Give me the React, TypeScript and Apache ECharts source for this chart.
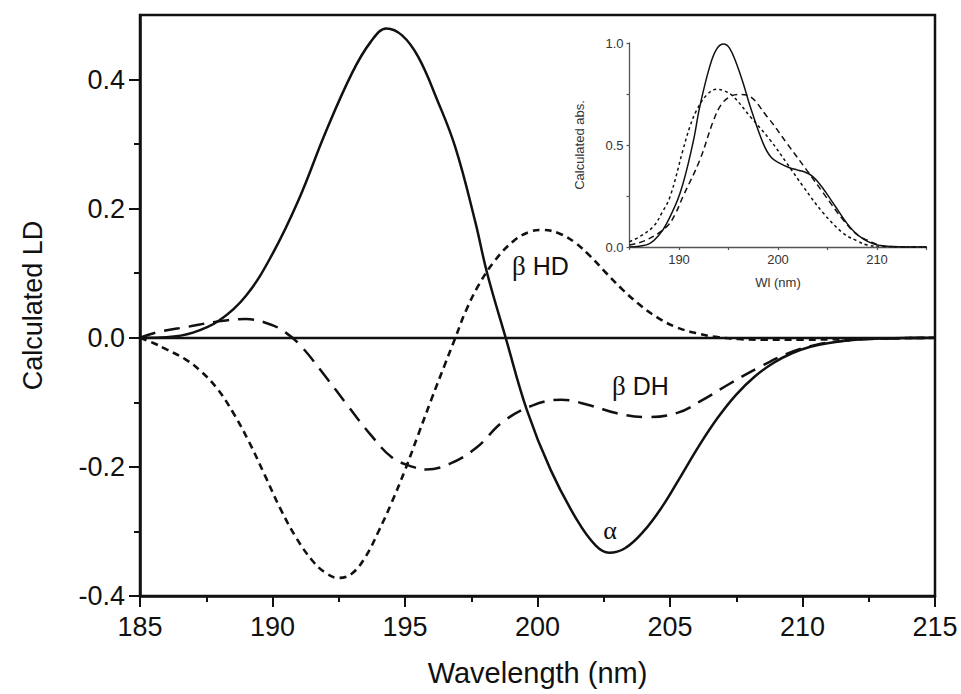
import React, { useEffect, useRef } from "react";
import * as echarts from "echarts";

// ---------- main panel data (Calculated LD) ----------
const alphaX = [185, 186, 187, 188, 189, 190, 191, 192, 193, 193.7, 194.3, 194.9, 195.5, 196.2, 196.9, 197.65, 198.1, 198.8, 199.6, 200.5, 201.5, 202.2, 202.7, 203.3, 204, 204.7, 205.4, 206.1, 206.8, 207.5, 208.2, 208.9, 209.6, 210.3, 211, 212, 213, 215];
const alphaY = [0, 0.001, 0.008, 0.027, 0.065, 0.13, 0.215, 0.318, 0.41, 0.458, 0.479, 0.468, 0.435, 0.37, 0.295, 0.18, 0.1, 0.0, -0.112, -0.205, -0.283, -0.322, -0.333, -0.326, -0.3, -0.262, -0.215, -0.167, -0.124, -0.088, -0.06, -0.039, -0.024, -0.014, -0.008, -0.003, -0.001, 0];

const hdX = [185, 185.5, 186, 186.7, 187.3, 187.9, 188.5, 189.1, 189.7, 190.3, 190.9, 191.5, 192, 192.5, 193, 193.5, 194, 194.5, 195, 195.5, 196, 196.5, 196.9, 197.3, 197.8, 198.4, 199.1, 199.7, 200.2, 200.8, 201.4, 202, 202.6, 203.2, 203.8, 204.5, 205.2, 206, 206.8, 207.6, 208.5, 210, 211.5, 213, 215];
const hdY = [0, -0.008, -0.018, -0.033, -0.052, -0.078, -0.115, -0.16, -0.212, -0.265, -0.31, -0.345, -0.364, -0.372, -0.365, -0.34, -0.3, -0.255, -0.205, -0.15, -0.095, -0.042, 0, 0.042, 0.083, 0.12, 0.15, 0.164, 0.167, 0.162, 0.148, 0.126, 0.1, 0.075, 0.053, 0.032, 0.017, 0.007, 0.001, -0.002, -0.003, -0.003, -0.002, -0.001, 0];

const dhX = [185, 185.7, 186.8, 187.9, 189, 189.9, 190.5, 191.1, 192, 192.8, 193.7, 194.5, 195.3, 195.8, 196.7, 197.7, 198.7, 199.8, 200.9, 202, 203, 204.1, 205.3, 206.2, 207.3, 208.4, 209.4, 210.5, 211.5, 212.5, 215];
const dhY = [0, 0.009, 0.017, 0.025, 0.029, 0.021, 0.008, -0.014, -0.06, -0.103, -0.15, -0.185, -0.2, -0.204, -0.195, -0.17, -0.13, -0.105, -0.096, -0.105, -0.117, -0.123, -0.116, -0.097, -0.07, -0.045, -0.025, -0.011, -0.005, -0.002, 0];

// ---------- inset data (Calculated abs.) ----------
const insSolidX = [185, 186, 187.07, 188, 188.76, 190.1, 191.4, 192.1, 193.1, 193.8, 194.5, 195.1, 195.8, 196.5, 197.2, 198.5, 199.3, 200.2, 201.1, 201.9, 202.7, 203.4, 204.1, 204.8, 205.5, 206.2, 206.9, 207.7, 208.6, 209.5, 210.3, 211.5, 213, 215];
const insSolidY = [0, 0.004, 0.018, 0.06, 0.116, 0.263, 0.508, 0.688, 0.884, 0.97, 0.995, 0.975, 0.9, 0.8, 0.688, 0.508, 0.44, 0.41, 0.39, 0.378, 0.368, 0.35, 0.315, 0.27, 0.22, 0.17, 0.12, 0.075, 0.04, 0.018, 0.008, 0.002, 0, 0];

const insDotX = [185, 186, 187.4, 188.3, 189.1, 190.4, 191.1, 191.8, 192.8, 193.8, 194.6, 195.5, 197.2, 199.2, 200.9, 202.55, 204.6, 206.6, 208, 209, 210.5, 212, 215];
const insDotY = [0.026, 0.05, 0.1, 0.17, 0.247, 0.475, 0.59, 0.672, 0.745, 0.773, 0.765, 0.737, 0.639, 0.525, 0.41, 0.296, 0.165, 0.067, 0.03, 0.01, 0.003, 0, 0];

const insDashX = [185, 186.7, 188.76, 189.6, 190.4, 192.1, 193.5, 194.3, 195.15, 196, 196.8, 198.9, 200.9, 202.9, 204.6, 206.6, 208, 209, 210.7, 213, 215];
const insDashY = [0.01, 0.034, 0.1, 0.16, 0.247, 0.426, 0.622, 0.7, 0.737, 0.748, 0.745, 0.639, 0.508, 0.377, 0.263, 0.132, 0.06, 0.034, 0.005, 0, 0];

// ---------- ticks ----------
const mainYMajor = [-0.4, -0.2, 0, 0.2, 0.4];
const mainYMinor = [-0.3, -0.1, 0.1, 0.3];
const insetXTicks = [185, 190, 195, 200, 205, 210, 215];
const insetXLabels = [190, 200, 210];
const insetYTicks = [0, 0.25, 0.5, 0.75, 1];
const insetYLabels = [0, 0.5, 1];

const pairs = (xs: number[], ys: number[]) => xs.map((x, i) => [x, ys[i]]);

const SANS = "Liberation Sans, Arial, sans-serif";
const SERIF = "Liberation Serif, Times New Roman, serif";
const INK = "#111";

export default function App() {
  const ref = useRef<HTMLDivElement>(null);
  useEffect(() => {
    document.body.style.margin = "0";
    const chart = echarts.init(ref.current!, null, { renderer: "svg" });
    const tickStyle = { color: INK, width: 2 };
    chart.setOption({
      animation: false,
      backgroundColor: "#fff",
      textStyle: { fontFamily: SANS },
      grid: [
        { left: 140, top: 15, width: 795, height: 581, show: true, borderColor: INK, borderWidth: 2.5, backgroundColor: "transparent" },
        { left: 629.5, top: 43, width: 297, height: 204, show: false },
      ],
      xAxis: [
        {
          type: "value", gridIndex: 0, min: 185, max: 215, interval: 5,
          name: "Wavelength (nm)", nameLocation: "middle", nameGap: 62,
          nameTextStyle: { fontSize: 29, color: INK, fontFamily: SANS },
          axisLine: { onZero: false, lineStyle: { color: INK, width: 2.5 } },
          axisTick: { length: 11, lineStyle: tickStyle },
          minorTick: { show: true, splitNumber: 2, length: 6, lineStyle: tickStyle },
          axisLabel: { fontSize: 27, color: INK, margin: 17, fontFamily: SANS },
          splitLine: { show: false },
        },
        {
          type: "value", gridIndex: 1, min: 185, max: 215,
          name: "Wl (nm)", nameLocation: "middle", nameGap: 29,
          nameTextStyle: { fontSize: 13, color: "#333", fontFamily: SANS },
          axisLine: { onZero: false, lineStyle: { color: "#555", width: 1.3 } },
          axisTick: { customValues: insetXTicks, length: 3, lineStyle: { color: "#555", width: 1.2 } },
          axisLabel: { customValues: insetXLabels, fontSize: 13, color: "#333", margin: 6, fontFamily: SANS },
          splitLine: { show: false },
        },
      ],
      yAxis: [
        {
          type: "value", gridIndex: 0, min: -0.4, max: 0.5, position: "left",
          name: "Calculated LD", nameLocation: "middle", nameGap: 94, nameRotate: 90,
          nameTextStyle: { fontSize: 27, color: INK, fontFamily: SANS },
          axisLine: { onZero: false, lineStyle: { color: INK, width: 2.5 } },
          axisTick: { customValues: mainYMajor, length: 11, lineStyle: tickStyle },
          axisLabel: { customValues: mainYMajor, formatter: (v: number) => v.toFixed(1), fontSize: 27, color: INK, margin: 15, fontFamily: SANS },
          splitLine: { show: false },
        },
        {
          type: "value", gridIndex: 0, min: -0.4, max: 0.5, position: "left",
          axisLine: { show: false, onZero: false },
          axisTick: { customValues: mainYMinor, length: 6, lineStyle: tickStyle },
          axisLabel: { show: false },
          splitLine: { show: false },
        },
        {
          type: "value", gridIndex: 1, min: 0, max: 1, position: "left",
          name: "Calculated abs.", nameLocation: "middle", nameGap: 44, nameRotate: 90,
          nameTextStyle: { fontSize: 13, color: "#333", fontFamily: SANS },
          axisLine: { onZero: false, lineStyle: { color: "#555", width: 1.3 } },
          axisTick: { customValues: insetYTicks, length: 3, lineStyle: { color: "#555", width: 1.2 } },
          axisLabel: { customValues: insetYLabels, formatter: (v: number) => v.toFixed(1), fontSize: 13, color: "#333", margin: 6, fontFamily: SANS },
          splitLine: { show: false },
        },
      ],
      series: [
        {
          name: "α", type: "line", xAxisIndex: 0, yAxisIndex: 0, data: pairs(alphaX, alphaY),
          smooth: 0.4, showSymbol: false, lineStyle: { color: INK, width: 2.5, type: "solid" },
          markLine: {
            silent: true, symbol: ["none", "none"], label: { show: false },
            lineStyle: { color: INK, width: 2.3, type: "solid" },
            data: [{ yAxis: 0 }],
          },
        },
        {
          name: "β HD", type: "line", xAxisIndex: 0, yAxisIndex: 0, data: pairs(hdX, hdY),
          smooth: 0.4, showSymbol: false, lineStyle: { color: INK, width: 2.6, type: [7, 5] },
        },
        {
          name: "β DH", type: "line", xAxisIndex: 0, yAxisIndex: 0, data: pairs(dhX, dhY),
          smooth: 0.4, showSymbol: false, lineStyle: { color: INK, width: 2.5, type: [16, 9] },
        },
        {
          name: "α abs", type: "line", xAxisIndex: 1, yAxisIndex: 2, data: pairs(insSolidX, insSolidY),
          smooth: 0.4, showSymbol: false, lineStyle: { color: INK, width: 1.5, type: "solid" },
        },
        {
          name: "β HD abs", type: "line", xAxisIndex: 1, yAxisIndex: 2, data: pairs(insDotX, insDotY),
          smooth: 0.4, showSymbol: false, lineStyle: { color: INK, width: 1.5, type: [3, 3] },
        },
        {
          name: "β DH abs", type: "line", xAxisIndex: 1, yAxisIndex: 2, data: pairs(insDashX, insDashY),
          smooth: 0.4, showSymbol: false, lineStyle: { color: INK, width: 1.5, type: [6, 4] },
        },
      ],
      graphic: [
        {
          type: "text", x: 512, y: 266,
          style: {
            text: "{g|β} HD", fontSize: 25, fontFamily: SANS, fill: INK, verticalAlign: "middle",
            rich: { g: { fontFamily: SERIF, fontSize: 27, fill: INK } },
          },
        },
        {
          type: "text", x: 612, y: 386,
          style: {
            text: "{g|β} DH", fontSize: 25, fontFamily: SANS, fill: INK, verticalAlign: "middle",
            rich: { g: { fontFamily: SERIF, fontSize: 27, fill: INK } },
          },
        },
        {
          type: "text", x: 610, y: 530,
          style: { text: "α", fontSize: 26, fontFamily: SERIF, fill: INK, align: "center", verticalAlign: "middle" },
        },
      ],
    });
    return () => chart.dispose();
  }, []);
  return <div ref={ref} style={{ width: 961, height: 694 }} />;
}
